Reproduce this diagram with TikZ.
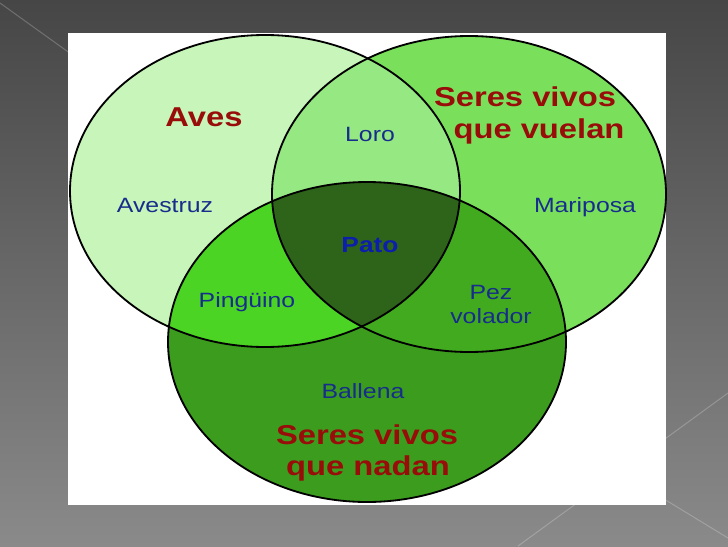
\documentclass[tikz,border=0pt]{standalone}
\usepackage{fontspec}
\newfontfamily\rotulo[FakeStretch=1.2]{Liberation Sans}
\usepackage{tikz}
\usetikzlibrary{positioning}

\definecolor{slidetop}{RGB}{70,70,70}
\definecolor{slidebottom}{RGB}{138,138,138}
\definecolor{avesonly}{RGB}{200,245,185}
\definecolor{vuelanonly}{RGB}{122,224,92}
\definecolor{nadanonly}{RGB}{60,156,30}
\definecolor{loro}{RGB}{150,232,130}
\definecolor{pinguino}{RGB}{76,212,36}
\definecolor{pez}{RGB}{66,170,30}
\definecolor{pato}{RGB}{45,100,25}
\definecolor{titulo}{RGB}{152,12,10}
\definecolor{especie}{RGB}{22,45,140}
\definecolor{especiepato}{RGB}{12,30,172}

\def\conjAves{(265,191) ellipse [x radius=195, y radius=156]}
\def\conjVuelan{(469,194) ellipse [x radius=197, y radius=158]}
\def\conjNadan{(367,342) ellipse [x radius=199, y radius=160]}

\begin{document}
\begin{tikzpicture}[x=0.025cm, y=-0.025cm,
    conjunto/.style={draw=black, line width=1.3pt},
    grupo/.style={font=\rotulo\fontsize{19.4}{23}\selectfont\bfseries, text=titulo, anchor=base, inner sep=0pt},
    especie/.style={font=\rotulo\fontsize{14.7}{18}\selectfont, text=especie, anchor=base, inner sep=0pt},
    raya/.style={white, opacity=0.22, line width=0.7pt}]
    \useasboundingbox (0,0) rectangle (728,546);
    \shade[top color=slidetop, bottom color=slidebottom] (0,0) rectangle (728,546);
    \draw[raya] (0,3) -- (110,82);
    \draw[raya] (728,393) -- (518,546);
    \draw[raya] (600,460) -- (728,538);
    \fill[white] (68,33) rectangle (666,505);

    \fill[avesonly] \conjAves;
    \fill[vuelanonly] \conjVuelan;
    \fill[nadanonly] \conjNadan;
    \begin{scope}
        \clip \conjAves;
        \fill[loro] \conjVuelan;
        \fill[pinguino] \conjNadan;
    \end{scope}
    \begin{scope}
        \clip \conjVuelan;
        \fill[pez] \conjNadan;
    \end{scope}
    \begin{scope}
        \clip \conjAves;
        \clip \conjVuelan;
        \fill[pato] \conjNadan;
    \end{scope}
    \draw[conjunto] \conjAves;
    \draw[conjunto] \conjVuelan;
    \draw[conjunto] \conjNadan;

    \node[grupo]   (AVES)     at (204,126) {Aves};
    \node[grupo]   (VUELAN1)  at (525,106) {Seres vivos};
    \node[grupo]   (VUELAN2)  at (539,138) {que vuelan};
    \node[grupo]   (NADAN1)   at (367,444) {Seres vivos};
    \node[grupo]   (NADAN2)   at (368,475) {que nadan};
    \node[especie] (LORO)     at (370,141) {Loro};
    \node[especie] (AVESTRUZ) at (165,212) {Avestruz};
    \node[especie] (MARIPOSA) at (585,212) {Mariposa};
    \node[especie, font=\rotulo\fontsize{15.6}{18}\selectfont\bfseries, text=especiepato] (PATO) at (370,252) {Pato};
    \node[especie] (PINGUINO) at (247,307) {Pingüino};
    \node[especie] (PEZ)      at (491,299) {Pez};
    \node[especie] (VOLADOR)  at (491,323) {volador};
    \node[especie] (BALLENA)  at (363,398) {Ballena};
\end{tikzpicture}
\end{document}
